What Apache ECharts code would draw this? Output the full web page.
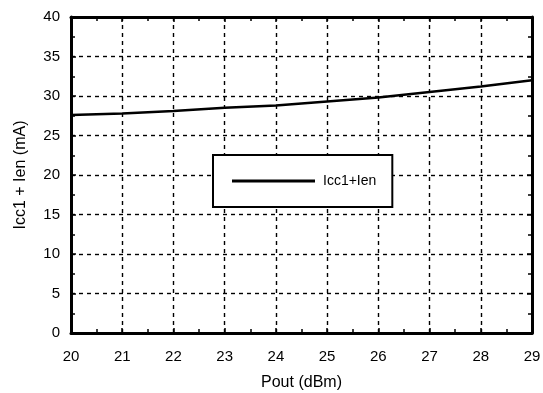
<!DOCTYPE html>
<html>
<head>
<meta charset="utf-8">
<script src="https://cdn.jsdelivr.net/npm/echarts@6/dist/echarts.min.js"></script>
<style>html,body{margin:0;padding:0;background:#fff}#c{width:543px;height:393px}</style>
</head>
<body>
<div id="c"></div>
<script>
const pout = [20, 21, 22, 23, 24, 25, 26, 27, 28, 29];
const icc = [27.6, 27.8, 28.1, 28.5, 28.8, 29.3, 29.8, 30.5, 31.2, 32.0];
const seriesName = 'Icc1+Ien';
const xTitle = 'Pout (dBm)';
const yTitle = 'Icc1 + Ien (mA)';

const font = 'Liberation Sans, Arial, sans-serif';
const chart = echarts.init(document.getElementById('c'));
const frame = {show: true, onZero: false, lineStyle: {color: '#000', width: 3}};
const grid = {show: true, lineStyle: {color: '#000', width: 1.4, type: [4, 4]}};
const ticks = {show: true, inside: true, length: 5, lineStyle: {color: '#000', width: 1.5}};
const minor = {show: true, splitNumber: 2, length: 4, lineStyle: {color: '#000', width: 1.5}};
chart.setOption({
  animation: false,
  grid: {left: 71, right: 11, top: 17, bottom: 60, outerBoundsMode: 'none', containLabel: false},
  legend: {
    show: true,
    left: 213, top: 155, orient: 'horizontal',
    padding: [19, 16, 19, 19],
    borderColor: '#000', borderWidth: 2,
    backgroundColor: '#fff',
    itemWidth: 83, itemHeight: 3, itemGap: 0,
    icon: 'rect',
    textStyle: {fontFamily: font, fontSize: 14, color: '#000', padding: [0, 0, 0, 3]},
    data: [seriesName]
  },
  xAxis: [{
    type: 'value', min: 20, max: 29, interval: 1, position: 'bottom',
    name: xTitle, nameLocation: 'middle', nameGap: 42,
    nameTextStyle: {fontFamily: font, fontSize: 16, color: '#000'},
    axisLine: frame, axisTick: ticks, minorTick: minor, splitLine: grid,
    axisLabel: {fontFamily: font, fontSize: 15, color: '#000', margin: 16}
  }, {
    type: 'value', min: 20, max: 29, interval: 1, position: 'top',
    axisLine: frame, axisTick: ticks, minorTick: minor, splitLine: {show: false},
    axisLabel: {show: false}
  }],
  yAxis: [{
    type: 'value', min: 0, max: 40, interval: 5, position: 'left',
    name: yTitle, nameLocation: 'middle', nameGap: 42,
    nameTextStyle: {fontFamily: font, fontSize: 16, color: '#000'},
    axisLine: frame, axisTick: ticks, minorTick: minor, splitLine: grid,
    axisLabel: {fontFamily: font, fontSize: 15, color: '#000', margin: 11}
  }, {
    type: 'value', min: 0, max: 40, interval: 5, position: 'right',
    axisLine: frame, axisTick: ticks, minorTick: minor, splitLine: {show: false},
    axisLabel: {show: false}
  }],
  series: [{
    name: seriesName, type: 'line', smooth: false, showSymbol: false,
    data: pout.map((x, i) => [x, icc[i]]),
    lineStyle: {color: '#000', width: 2.5}, itemStyle: {color: '#000'}, z: 5
  }]
});
</script>
</body>
</html>
